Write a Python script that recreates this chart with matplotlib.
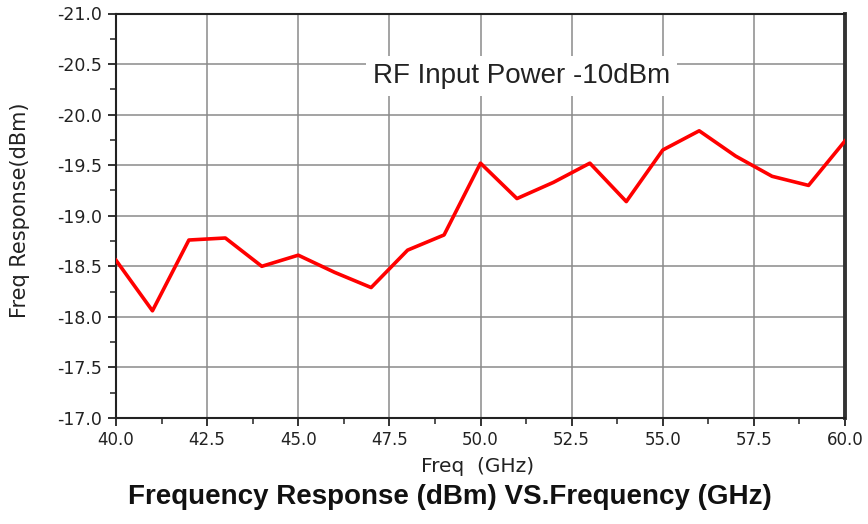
import matplotlib.pyplot as plt
from matplotlib.ticker import MultipleLocator, FormatStrFormatter

freq_ghz = [40, 41, 42, 43, 44, 45, 46, 47, 48, 49, 50,
            51, 52, 53, 54, 55, 56, 57, 58, 59, 60]
response_dbm = [-18.56, -18.06, -18.76, -18.78, -18.50, -18.61, -18.44, -18.29, -18.66, -18.81, -19.52,
                -19.17, -19.33, -19.52, -19.14, -19.65, -19.84, -19.59, -19.39, -19.30, -19.74]

plt.rcParams['font.family'] = ['DejaVu Sans']

fig = plt.figure(figsize=(8.68, 5.24), dpi=100)
ax = fig.add_axes([116 / 868, 1 - 418 / 524, (845 - 116) / 868, (418 - 13.5) / 524])

ax.plot(freq_ghz, response_dbm, color='#ff0000', lw=2.6, zorder=3)

ax.set_xlim(40, 60)
ax.set_ylim(-17, -21)  # inverted, as in the original
ax.xaxis.set_major_locator(MultipleLocator(2.5))
ax.xaxis.set_minor_locator(MultipleLocator(1.25))
ax.yaxis.set_major_locator(MultipleLocator(0.5))
ax.yaxis.set_minor_locator(MultipleLocator(0.25))
ax.xaxis.set_major_formatter(FormatStrFormatter('%.1f'))
ax.yaxis.set_major_formatter(FormatStrFormatter('%.1f'))

ax.grid(True, which='major', color='#8a8a8a', lw=1.1)
ax.tick_params(which='both', direction='out', top=False, right=False, colors='#222222')
ax.tick_params(axis='x', labelsize=12)
ax.tick_params(axis='y', labelsize=12.5, pad=4)
ax.tick_params(which='major', length=6, width=1.3)
ax.tick_params(which='minor', length=4, width=1.1)

for side in ['left', 'bottom', 'top']:
    ax.spines[side].set_linewidth(1.5)
    ax.spines[side].set_color('#222222')
ax.spines['right'].set_linewidth(2.8)
ax.spines['right'].set_color('#333333')

ax.set_xlabel('Freq  (GHz)', fontsize=14.5, color='#222222')
ax.xaxis.set_label_coords(0.496, -0.097)
ax.set_ylabel('Freq Response(dBm)', fontsize=15, color='#222222')
ax.yaxis.set_label_coords(-0.118, 0.514)

ax.text(0.556, 0.845, 'RF Input Power -10dBm', transform=ax.transAxes,
        ha='center', va='center', fontsize=20, family='Liberation Sans', color='#222222',
        bbox=dict(facecolor='white', edgecolor='none', pad=5), zorder=4)

fig.text(450 / 868, 1 - 497 / 524, 'Frequency Response (dBm) VS.Frequency (GHz)',
         ha='center', va='center', fontsize=20, fontweight='bold', family='Liberation Sans',
         color='#111111')

plt.savefig('out.png', dpi=100)
plt.close()
